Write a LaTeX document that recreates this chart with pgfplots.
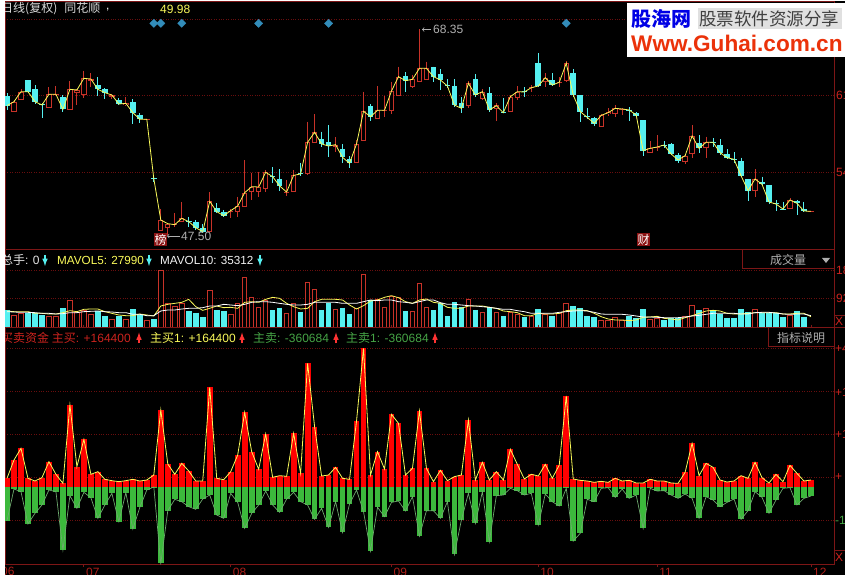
\documentclass[border=0pt]{standalone}
\usepackage{fontspec}
\usepackage{pgfplots}
\usepackage{pgfplotstable}
\pgfplotsset{compat=1.18}
\setmainfont{Liberation Sans}
\newfontfamily\cjk{Noto Sans CJK SC}
\definecolor{frame}{RGB}{125,22,22}
\definecolor{gridc}{RGB}{105,14,14}
\definecolor{candc}{RGB}{85,240,240}
\definecolor{candr}{RGB}{200,50,40}
\definecolor{ylw}{RGB}{250,250,90}
\definecolor{grn}{RGB}{60,185,60}
\definecolor{grnl}{RGB}{110,170,110}
\definecolor{txtg}{RGB}{175,175,175}
\definecolor{txtr}{RGB}{205,35,30}
\definecolor{txtgr}{RGB}{70,165,70}
\definecolor{diam}{RGB}{50,140,185}
% zoomed reading units of the price panel: smaller number = higher price
\pgfplotstableread{
i up t b h l c
0 0 288 317 280 330 317
1 1 305 335 300 335 305
2 1 275 300 268 300 275
3 0 240 275 240 280 275
4 0 268 305 255 312 305
5 0 312 315 310 353 315
6 1 283 324 262 324 283
7 1 283 286 258 286 283
8 0 290 328 285 335 328
9 1 268 330 243 330 268
10 1 270 278 268 315 270
11 1 235 285 212 295 235
12 1 236 242 220 260 237
13 0 255 268 232 288 268
14 0 268 278 265 298 278
15 1 284 290 282 296 285
16 0 300 312 295 315 312
17 1 308 315 292 318 310
18 0 307 338 297 373 338
19 0 345 358 340 368 358
20 1 356 358 356 360 358
21 0 535 537 525 545 536
22 1 660 692 628 692 660
23 1 671 685 668 705 671
24 1 673 675 640 680 674
25 1 655 667 606 667 655
26 0 663 665 650 680 665
27 0 667 683 660 690 683
28 0 685 697 672 700 695
29 1 604 697 576 697 604
30 0 624 635 610 640 635
31 0 636 647 630 652 647
32 1 632 636 628 655 632
33 1 618 635 590 650 618
34 1 578 622 480 622 578
35 1 560 577 518 600 560
36 1 561 575 515 590 561
37 1 517 567 510 575 517
38 0 529 531 502 550 530
39 0 537 558 508 572 558
40 1 575 578 540 588 576
41 1 526 575 510 575 526
42 0 520 522 488 528 522
43 1 427 522 365 525 427
44 1 397 428 343 428 397
45 0 418 432 395 440 432
46 0 427 438 375 470 438
47 1 434 440 412 455 434
48 0 447 472 432 490 472
49 0 478 490 468 503 490
50 1 432 490 420 490 432
51 1 334 423 275 423 334
52 0 318 350 313 362 350
53 1 331 358 258 358 331
54 1 330 332 288 350 331
55 1 273 332 245 342 273
56 1 230 287 200 287 230
57 0 229 242 216 275 242
58 1 238 260 225 265 238
59 1 205 246 88 246 205
60 1 205 240 185 240 205
61 0 202 230 200 245 230
62 0 223 240 208 270 240
63 0 255 258 238 265 258
64 0 258 315 238 320 315
65 0 310 325 292 338 325
66 1 250 317 243 325 250
67 0 237 285 222 290 285
68 1 275 297 268 300 275
69 0 280 330 262 335 330
70 1 315 328 310 362 317
71 0 337 339 295 340 338
72 1 290 335 285 335 290
73 1 275 293 258 300 275
74 0 274 277 262 290 276
75 1 262 264 255 275 263
76 0 190 258 160 260 258
77 1 233 247 220 260 233
78 0 240 255 220 258 255
79 1 247 250 232 260 247
80 1 190 242 183 245 190
81 0 220 285 208 290 285
82 0 285 335 285 365 335
83 0 349 352 325 358 352
84 0 355 372 350 378 370
85 1 346 381 343 381 346
86 1 335 343 325 347 338
87 1 325 343 315 350 325
88 1 326 328 325 345 327
89 0 329 331 322 362 330
90 0 340 347 337 350 345
91 0 360 452 360 467 452
92 1 445 458 423 458 445
93 1 440 442 405 452 441
94 0 434 436 423 445 435
95 0 432 462 430 465 462
96 0 465 482 460 488 480
97 1 467 485 462 492 467
98 1 408 463 376 475 408
99 0 430 445 405 460 445
100 1 427 445 410 473 427
101 0 426 428 415 440 427
102 0 435 458 418 465 458
103 0 463 473 448 476 473
104 0 477 479 457 490 478
105 0 484 527 473 530 527
106 0 537 572 537 602 572
107 1 537 572 508 590 537
108 0 547 553 530 556 553
109 0 555 606 555 612 606
110 0 610 613 600 632 612
111 0 626 628 605 628 627
112 1 600 626 595 626 600
113 0 603 610 600 644 610
114 0 628 633 605 635 633
115 1 633 635 633 635 634
}\candles
\pgfplotstableread{
i up v a b
0 0 195 198 200
1 1 210 200 201
2 1 203 200 202
3 0 203 200 202
4 0 205 205 203
5 0 210 205 205
6 1 213 207 205
7 1 212 207 207
8 0 190 203 206
9 1 166 197 203
10 1 200 200 203
11 1 195 193 200
12 1 207 192 199
13 0 198 192 198
14 0 213 200 200
15 1 222 205 201
16 0 212 210 203
17 1 222 212 203
18 0 193 212 208
19 0 210 207 208
20 1 226 210 212
21 0 222 213 212
22 1 76 183 198
23 1 175 178 195
24 1 182 175 195
25 1 175 172 192
26 0 198 163 190
27 0 203 185 190
28 0 216 196 188
29 1 136 190 183
30 0 195 183 183
31 0 198 188 178
32 1 207 187 180
33 1 175 190 182
34 1 97 172 178
35 1 157 170 172
36 1 186 172 170
37 1 166 163 170
38 0 195 157 172
39 0 188 160 175
40 1 204 175 178
41 1 175 185 180
42 0 200 192 180
43 1 112 190 178
44 1 133 170 172
45 0 195 163 172
46 0 175 163 172
47 1 192 163 172
48 0 188 165 175
49 0 207 180 175
50 1 190 192 175
51 1 88 182 170
52 0 165 168 165
53 1 163 165 167
54 1 186 157 165
55 1 153 152 165
56 1 157 158 170
57 0 198 170 172
58 1 198 175 175
59 1 115 165 170
60 1 187 162 165
61 0 195 172 165
62 0 175 175 173
63 0 213 187 178
64 0 172 190 178
65 0 185 190 180
66 1 162 183 182
67 0 195 183 183
68 1 202 183 185
69 0 185 187 187
70 1 202 190 190
71 0 213 198 193
72 1 200 200 193
73 1 207 203 197
74 0 216 212 200
75 1 213 212 205
76 0 192 205 205
77 1 207 207 205
78 0 213 207 205
79 1 203 205 202
80 1 175 197 200
81 0 183 195 198
82 0 190 195 197
83 0 213 197 198
84 0 216 205 202
85 1 226 215 207
86 1 226 222 208
87 1 216 225 208
88 1 225 225 208
89 0 212 227 210
90 0 220 225 213
91 0 192 217 216
92 1 222 216 216
93 1 218 214 217
94 0 225 220 218
95 0 220 222 218
96 0 218 225 218
97 1 212 218 216
98 1 181 212 213
99 0 195 205 211
100 1 190 198 208
101 0 197 196 205
102 0 208 198 205
103 0 218 205 205
104 0 218 207 205
105 0 192 207 207
106 0 200 205 207
107 1 193 203 203
108 0 205 203 202
109 0 203 203 202
110 0 203 203 204
111 0 215 207 207
112 1 210 207 208
113 0 198 205 207
114 0 215 205 207
115 0 246 215 212
}\volumes
\pgfplotstableread{
i r g
0 400 527
1 345 432
2 310 440
3 400 537
4 408 505
5 398 480
6 350 435
7 388 440
8 415 615
9 180 452
10 365 490
11 283 442
12 388 458
13 380 520
14 403 480
15 407 445
16 410 530
17 407 443
18 403 552
19 408 487
20 405 435
21 390 426
22 195 655
23 357 497
24 388 463
25 355 470
26 378 485
27 408 493
28 408 462
29 127 450
30 400 510
31 404 520
32 380 445
33 330 472
34 202 550
35 320 505
36 373 480
37 267 438
38 397 480
39 392 502
40 394 462
41 265 442
42 385 470
43 55 480
44 245 523
45 393 490
46 390 547
47 367 470
48 400 562
49 403 477
50 228 435
51 10 500
52 390 618
53 320 487
54 372 515
55 208 472
56 235 468
57 390 498
58 370 455
59 198 573
60 370 497
61 410 497
62 376 520
63 407 470
64 395 628
65 390 525
66 225 445
67 405 535
68 352 440
69 405 590
70 380 452
71 405 450
72 313 430
73 358 437
74 402 450
75 388 445
76 393 540
77 358 447
78 400 470
79 360 483
80 153 430
81 402 588
82 406 565
83 408 463
84 412 470
85 409 430
86 412 428
87 400 457
88 408 432
89 406 460
90 414 450
91 414 550
92 403 430
93 408 438
94 408 437
95 414 450
96 415 460
97 382 447
98 295 460
99 392 520
100 355 455
101 367 465
102 405 485
103 411 472
104 408 462
105 392 523
106 400 497
107 352 440
108 398 457
109 414 505
110 388 465
111 410 430
112 361 428
113 385 480
114 408 460
115 405 453
}\money
\pgfplotsset{
  ebar/.style n args={2}{draw=none,no marks,forget plot,
    error bars/y dir=plus,error bars/y explicit,error bars/error mark=none,
    error bars/error bar style={draw=#1,line width=#2,solid}},
  panel/.style={scale only axis,width=829pt,xmin=-0.286,xmax=118.3,
    y dir=reverse,axis line style={draw=frame,line width=0.8pt},
    xtick=\empty,ymajorgrids,yticklabels={},ytick style={draw=none},
    major tick length=0pt,
    grid style={dotted,draw=gridc,line width=0.7pt},
    clip=true,anchor=south west}
}
\newcommand\T[4][12]{\node[anchor=west,inner sep=0pt,text=#3,font=\fontsize{#1}{#1}\selectfont] at (#2) {#4};}
\newcommand\Up[1]{\draw[line width=1.5pt,draw=red!80!white,-latex] (#1,237.5) -- (#1,248.5);}
\newcommand\Dn[1]{\draw[line width=1.5pt,draw=candc,-latex] (#1,326) -- (#1,315);}
\tikzset{tagbox/.style={fill={rgb,255:red,140;green,20;blue,20},text=white,inner sep=0pt,minimum width=13pt,minimum height=13pt,font=\fontsize{12}{12}\selectfont\cjk,anchor=center}}
\begin{document}
\begin{tikzpicture}[x=1pt,y=1pt]
\useasboundingbox (0,0) rectangle (849,581);
\fill[black] (0,0) rectangle (849,581);
% price panel
\begin{axis}[panel,at={(5pt,332pt)},height=248pt,ymin=3,ymax=747,ytick={58,286,517}]
\addplot[ebar={candr}{0.9pt},restrict expr to domain={\thisrow{up}}{1:1}] table[x=i,y=h,y error plus expr=\thisrow{l}-\thisrow{h}] {\candles};
\addplot[ebar={candc}{0.9pt},restrict expr to domain={\thisrow{up}}{0:0}] table[x=i,y=h,y error plus expr=\thisrow{l}-\thisrow{h}] {\candles};
\addplot[ebar={candr}{5.4pt},restrict expr to domain={\thisrow{up}}{1:1}] table[x=i,y=t,y error plus expr=\thisrow{b}-\thisrow{t}] {\candles};
\addplot[ebar={black}{3.4pt},restrict expr to domain={\thisrow{up}}{1:1}] table[x=i,y expr=\thisrow{t}+3,y error plus expr={max(\thisrow{b}-\thisrow{t}-6,0)}] {\candles};
\addplot[ebar={candc}{5.6pt},restrict expr to domain={\thisrow{up}}{0:0}] table[x=i,y=t,y error plus expr=\thisrow{b}-\thisrow{t}] {\candles};
\addplot[draw=ylw,line width=0.8pt,no marks] table[x=i,y=c] {\candles};
\addplot[only marks,mark=square*,mark size=2.9pt,mark options={draw=diam,fill=diam,rotate=45}] coordinates {(21,70) (22,70) (25,70) (36,70) (46,70) (80,70)};
\end{axis}
% volume panel
\begin{axis}[panel,at={(5pt,253.5pt)},height=78.5pt,ymin=12,ymax=247.5,ytick={76,160}]
\addplot[ebar={candc}{5.6pt},restrict expr to domain={\thisrow{up}}{0:0}] table[x=i,y=v,y error plus expr=246-\thisrow{v}] {\volumes};
\addplot[ebar={candr}{5.6pt},restrict expr to domain={\thisrow{up}}{1:1}] table[x=i,y=v,y error plus expr=246-\thisrow{v}] {\volumes};
\addplot[ebar={black}{3.6pt},restrict expr to domain={\thisrow{up}}{1:1}] table[x=i,y expr=\thisrow{v}+3,y error plus expr=246-\thisrow{v}-3] {\volumes};
\addplot[draw=ylw,line width=0.8pt,no marks] table[x=i,y=a] {\volumes};
\addplot[draw=white,line width=0.8pt,no marks] table[x=i,y=b] {\volumes};
\end{axis}
% money flow panel
\begin{axis}[panel,at={(5pt,17pt)},height=236.5pt,ymin=-52.5,ymax=657,ytick={10,140,268,397,525},
  xtick={11,32,55,76,93,115},xticklabels={07,08,09,10,11,12},
  major tick length=3pt,tick align=outside,xtick style={draw=frame,line width=0.8pt},
  xticklabel style={anchor=north west,text=txtr!85!black,inner sep=0pt,font=\fontsize{12}{12}\selectfont,xshift=2pt,yshift=-1pt}]
\addplot[ebar={red}{5.8pt}] table[x=i,y=r,y error plus expr=425-\thisrow{r}] {\money};
\addplot[ebar={grn}{5.8pt}] table[x=i,y expr=425,y error plus expr=\thisrow{g}-425] {\money};
\addplot[draw=grnl,line width=0.7pt,no marks] table[x=i,y=g] {\money};
\addplot[draw=ylw,line width=0.8pt,no marks] table[x=i,y=r] {\money};
\end{axis}
% header, price notes
\T{1,572}{white!85!black}{\cjk 日线(复权)\hspace{7pt}同花顺}
\T{106,571}{white}{,}
\T{160,572}{ylw}{49.98}
\draw[txtg,line width=0.7pt,<-] (422,551.5) -- (431,551.5);
\T{433,551.5}{txtg}{68.35}
\draw[txtg,line width=0.7pt,<-] (167,345) -- (180,345);
\T{181,345}{txtg}{47.50}
\node[tagbox] at (160.5,341) {榜};
\node[tagbox] at (643.5,341) {财};
% volume header
\T{1,321}{white!90!black}{{\cjk 总手}: 0}
\Dn{45}
\T[11.7]{57,321}{ylw}{MAVOL5: 27990}
\Dn{149}
\T[11.7]{160,321}{white!95!black}{MAVOL10: 35312}
\Dn{260}
% money header
\T{1,243}{txtr}{{\cjk 买卖资金 主买}: +164400}
\Up{139}
\T{150,243}{ylw}{{\cjk 主买}1: +164400}
\Up{242}
\T{253,243}{txtgr}{{\cjk 主卖}: -360684}
\Up{336}
\T{346,243}{txtgr}{{\cjk 主卖}1: -360684}
\Up{435}
% right buttons
\draw[frame,line width=0.8pt] (834,313) -- (742,313) -- (742,332);
\draw[frame,line width=0.8pt] (834,235) -- (768,235) -- (768,253.5);
\T{770,321}{txtg}{\cjk 成交量}
\fill[txtg] (822,323) -- (830,323) -- (826,318) -- cycle;
\T{777,243}{txtg}{\cjk 指标说明}
% right scale
\T{836,486}{txtr}{61}
\T{836,409}{txtr}{54}
\T{836,311}{txtr}{18}
\T{836,283}{txtr}{92}
\draw[frame,line width=0.8pt] (834,254) -- (845,254) (834,266) -- (845,266);
\T{835,260}{txtr}{X}
\T{835,233}{txtr}{+4}
\T{835,189}{txtr}{+1}
\T{835,147}{txtr}{+1}
\T{835,104}{txtr}{+}
\T{835,61}{txtgr}{-1}
\draw[frame,line width=0.8pt] (834,31) -- (845,31);
\T{835,24}{txtr}{X}
\T{1,10}{txtr!85!black}{06}
% watermark
\fill[white] (627,524) rectangle (845,578);
\fill[black!12] (698,552) rectangle (842,573);
\node[anchor=west,inner sep=0pt,text=blue!90!black,font=\fontsize{20}{20}\selectfont\cjk\bfseries] at (631,562) {股海网};
\node[anchor=west,inner sep=0pt,text=black!75,font=\fontsize{17.5}{18}\selectfont\cjk] at (699,562) {股票软件资源分享};
\node[anchor=west,inner sep=0pt,text={rgb,255:red,235;green,50;blue,10},font=\fontsize{22.6}{23}\selectfont\bfseries] at (631,538) {Www.Guhai.com.cn};
% paper strips
\fill[white] (0,0) rectangle (5,581);
\fill[white] (0,0) rectangle (849,6);
\fill[white] (845,0) rectangle (849,581);
\fill[white] (0,580) rectangle (849,581);
\end{tikzpicture}
\end{document}
